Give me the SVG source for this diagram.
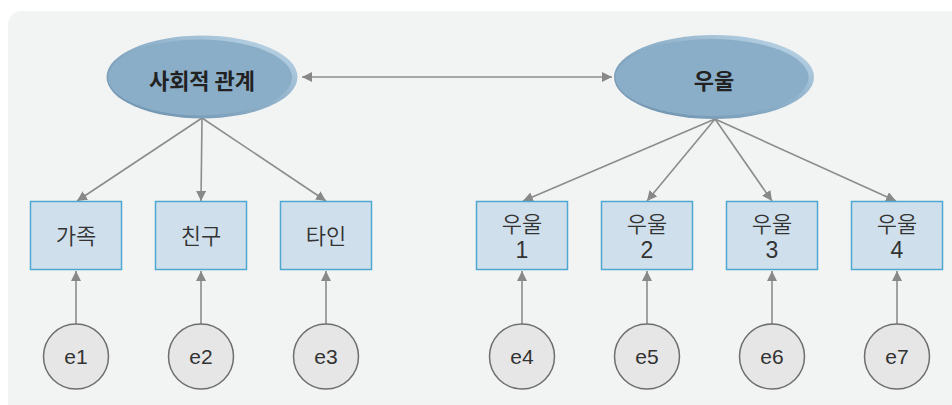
<svg xmlns="http://www.w3.org/2000/svg" width="952" height="405" viewBox="0 0 952 405">
<defs>
<linearGradient id="rim" x1="1" y1="0" x2="0" y2="1">
<stop offset="0" stop-color="#c4dbeb"/>
<stop offset="0.45" stop-color="#8fb1ca"/>
<stop offset="1" stop-color="#6a8eaa"/>
</linearGradient>
<marker id="ah" viewBox="0 0 10 10" refX="10" refY="5" markerWidth="10" markerHeight="10" markerUnits="userSpaceOnUse" orient="auto-start-reverse">
<path d="M0,0 L10,5 L0,10 Z" fill="#888"/>
</marker>
<style>
.conn line{stroke:#8c8c8c;stroke-width:1.6;fill:none}
.ell-rim{fill:url(#rim)}
.ell{fill:#8aaec8}
.lat{font-family:"Noto Sans CJK KR","Noto Sans",sans-serif;font-size:22px;font-weight:bold;fill:#222;text-anchor:middle}
.box{fill:#cfdfeb;stroke:#4fa8d2;stroke-width:1.5}
.bt{font-family:"Noto Sans CJK KR","Noto Sans",sans-serif;font-size:22px;font-weight:350;fill:#333;text-anchor:middle}
.num{font-family:"Liberation Sans","Noto Sans",sans-serif;font-size:23px;fill:#333;text-anchor:middle}
.err{fill:#e6e6e6;stroke:#6e6e6e;stroke-width:1.5}
.et{font-family:"Liberation Sans","Noto Sans",sans-serif;font-size:21px;fill:#333;text-anchor:middle}
</style>
</defs>
<rect x="0" y="0" width="952" height="405" fill="#ffffff"/>
<rect x="8" y="11" width="960" height="410" rx="14" fill="#f2f3f3"/>

<g id="connectors" class="conn">
<line x1="302" y1="77" x2="612" y2="77" marker-start="url(#ah)" marker-end="url(#ah)"/>
<line x1="202" y1="118" x2="77" y2="201" marker-end="url(#ah)"/>
<line x1="202" y1="118" x2="201" y2="201" marker-end="url(#ah)"/>
<line x1="202" y1="118" x2="326" y2="201" marker-end="url(#ah)"/>
<line x1="715" y1="119" x2="523" y2="201" marker-end="url(#ah)"/>
<line x1="715" y1="119" x2="647" y2="201" marker-end="url(#ah)"/>
<line x1="715" y1="119" x2="772" y2="201" marker-end="url(#ah)"/>
<line x1="715" y1="119" x2="896" y2="201" marker-end="url(#ah)"/>
<line x1="76" y1="324" x2="76" y2="271" marker-end="url(#ah)"/>
<line x1="201" y1="324" x2="201" y2="271" marker-end="url(#ah)"/>
<line x1="326" y1="324" x2="326" y2="271" marker-end="url(#ah)"/>
<line x1="522" y1="324" x2="522" y2="271" marker-end="url(#ah)"/>
<line x1="647" y1="324" x2="647" y2="271" marker-end="url(#ah)"/>
<line x1="772" y1="324" x2="772" y2="271" marker-end="url(#ah)"/>
<line x1="897" y1="324" x2="897" y2="271" marker-end="url(#ah)"/>
</g>

<g id="social">
<ellipse class="ell-rim" cx="202" cy="77" rx="95.5" ry="41.5"/>
<ellipse class="ell" cx="200" cy="77.5" rx="92" ry="38"/>
<text class="lat" x="202" y="89">사회적 관계</text>
</g>
<g id="depression">
<ellipse class="ell-rim" cx="714" cy="77" rx="100" ry="42"/>
<ellipse class="ell" cx="712" cy="77.5" rx="96.5" ry="38.5"/>
<text class="lat" x="714" y="89">우울</text>
</g>

<g id="family"><rect class="box" x="30.5" y="201.5" width="91" height="68"/><text class="bt" x="76" y="244">가족</text></g>
<g id="friend"><rect class="box" x="155.5" y="201.5" width="91" height="68"/><text class="bt" x="201" y="244">친구</text></g>
<g id="other"><rect class="box" x="280.5" y="201.5" width="91" height="68"/><text class="bt" x="326" y="244">타인</text></g>

<g id="dep1"><rect class="box" x="476.5" y="201.5" width="91" height="68"/><text class="bt" x="522" y="232">우울</text><text class="num" x="522" y="258">1</text></g>
<g id="dep2"><rect class="box" x="601.5" y="201.5" width="91" height="68"/><text class="bt" x="647" y="232">우울</text><text class="num" x="647" y="258">2</text></g>
<g id="dep3"><rect class="box" x="726.5" y="201.5" width="91" height="68"/><text class="bt" x="772" y="232">우울</text><text class="num" x="772" y="258">3</text></g>
<g id="dep4"><rect class="box" x="851.5" y="201.5" width="91" height="68"/><text class="bt" x="897" y="232">우울</text><text class="num" x="897" y="258">4</text></g>

<g id="e1"><circle class="err" cx="76" cy="356.5" r="32.5"/><text class="et" x="76" y="364">e1</text></g>
<g id="e2"><circle class="err" cx="201" cy="356.5" r="32.5"/><text class="et" x="201" y="364">e2</text></g>
<g id="e3"><circle class="err" cx="326" cy="356.5" r="32.5"/><text class="et" x="326" y="364">e3</text></g>
<g id="e4"><circle class="err" cx="522" cy="356.5" r="32.5"/><text class="et" x="522" y="364">e4</text></g>
<g id="e5"><circle class="err" cx="647" cy="356.5" r="32.5"/><text class="et" x="647" y="364">e5</text></g>
<g id="e6"><circle class="err" cx="772" cy="356.5" r="32.5"/><text class="et" x="772" y="364">e6</text></g>
<g id="e7"><circle class="err" cx="897" cy="356.5" r="32.5"/><text class="et" x="897" y="364">e7</text></g>
</svg>
